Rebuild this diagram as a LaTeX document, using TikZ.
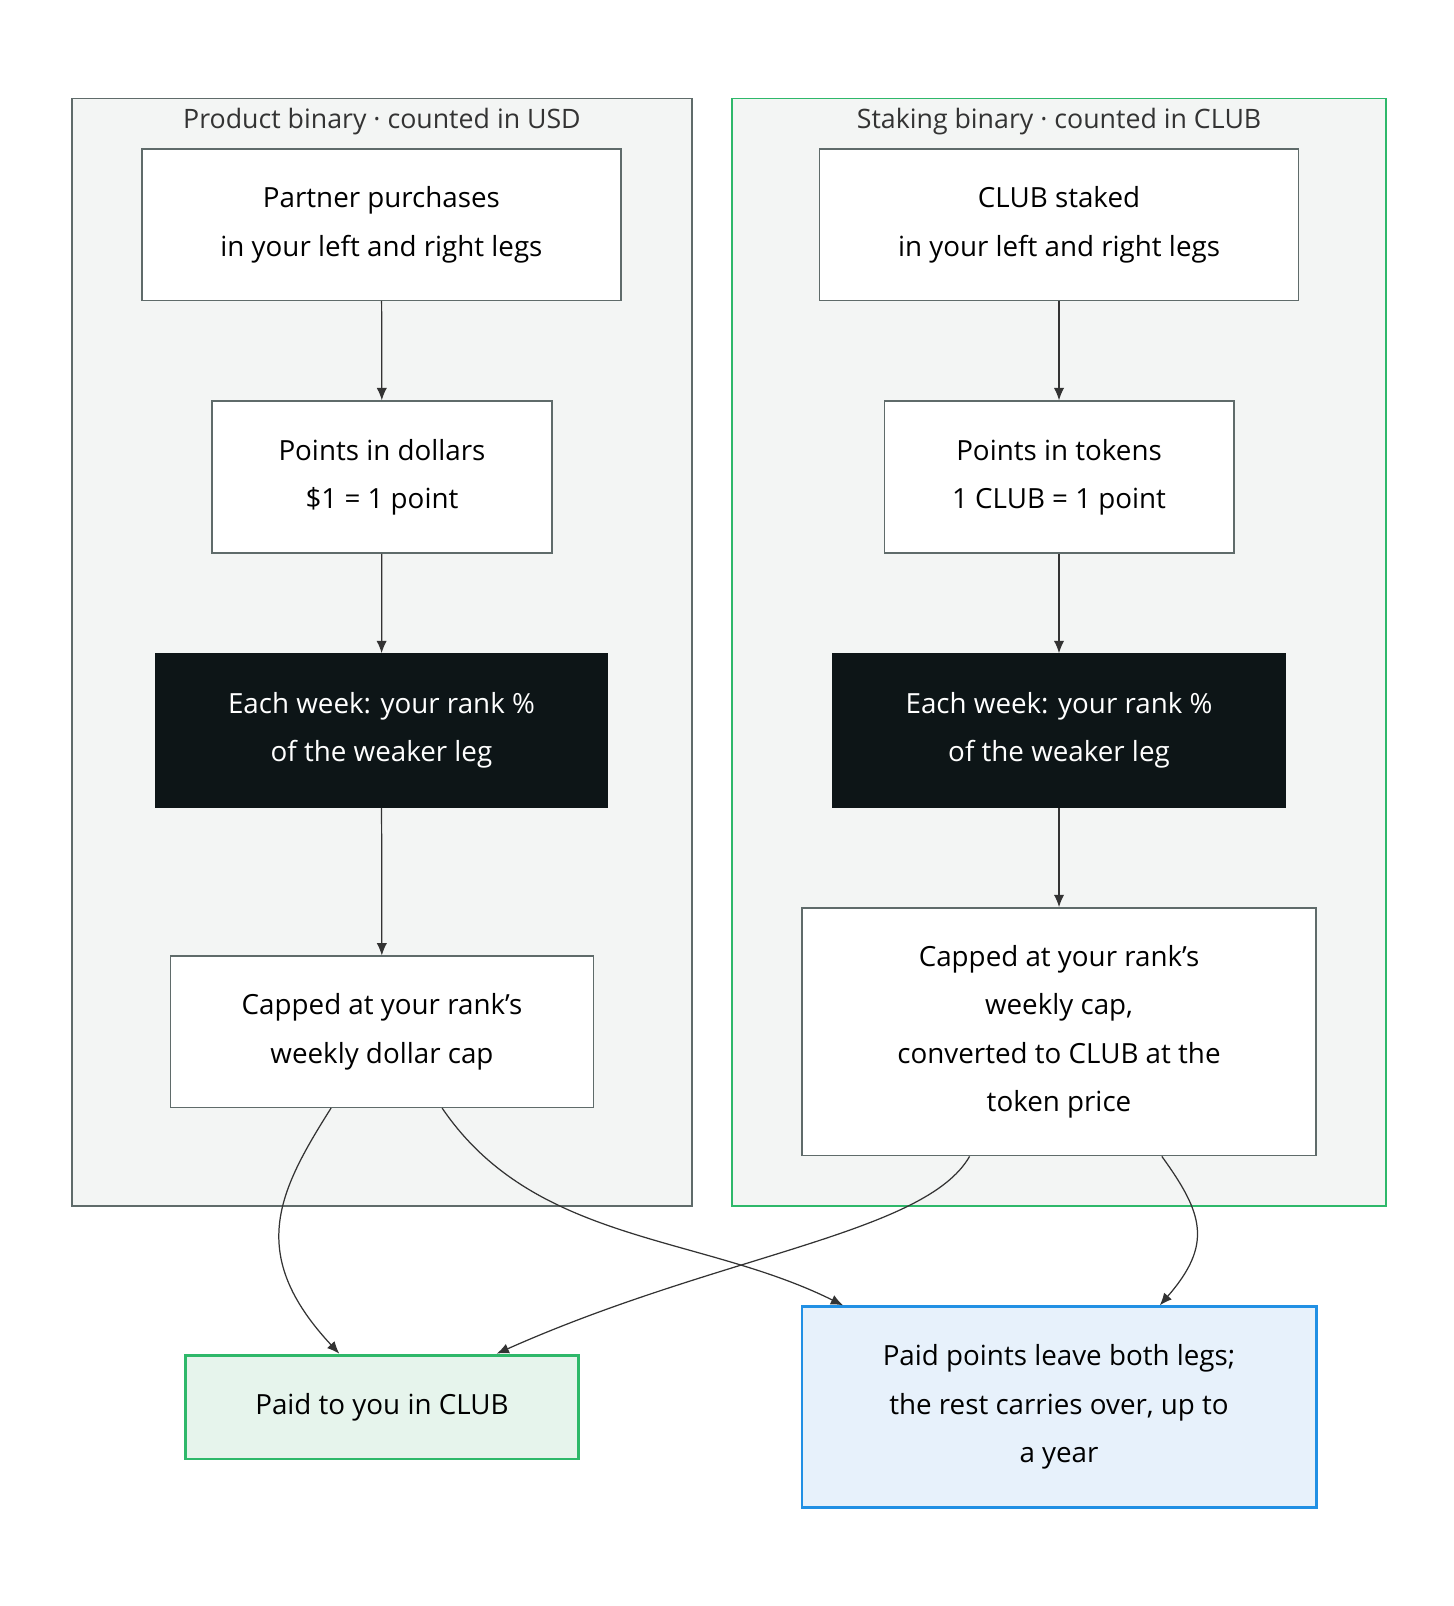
\documentclass[tikz,border=0pt]{standalone}
\usepackage{fontspec}
\setmainfont{Open Sans}
\usepackage{tikz}
\usetikzlibrary{arrows.meta}
\definecolor{boxline}{HTML}{5F6B6A}
\definecolor{framefill}{HTML}{F3F5F4}
\definecolor{clubgreen}{HTML}{2EB86A}
\definecolor{paidfill}{HTML}{E6F4EC}
\definecolor{carryblue}{HTML}{2190E4}
\definecolor{carryfill}{HTML}{E7F1FB}
\definecolor{weekfill}{HTML}{0D1517}
\tikzset{
  stepbox/.style={draw=boxline,line width=0.7pt,fill=white,align=center,inner sep=0pt,font=\fontsize{13.5}{23.5}\selectfont},
  weekbox/.style={stepbox,draw=weekfill,fill=weekfill,text=white},
  flow/.style={-{Latex[length=6pt,width=5pt]},draw=black!80,line width=0.6pt},
  frametitle/.style={font=\fontsize{13}{16}\selectfont,text=black!80}
}
\begin{document}
\begin{tikzpicture}[x=0.5pt,y=-0.5pt]
                  \useasboundingbox (0,0) rectangle (1414,1562);
                  % Frames
                  \draw [boxline,fill=framefill,line width=0.6pt] (70,96) rectangle (673,1173);
                  \draw [clubgreen,fill=framefill,line width=0.6pt] (712,96) rectangle (1348,1173);
                  \node [frametitle] (ltitle) at (371.5,118) {Product binary · counted in USD};
                  \node [frametitle] (rtitle) at (1030,118) {Staking binary · counted in CLUB};
                  % Product binary
                  \node [stepbox,minimum width=233pt,minimum height=73.5pt] (lbuy) at (371,218.5) {Partner purchases\\in your left and right legs};
                  \node [stepbox,minimum width=165.5pt,minimum height=74pt] (lpts) at (371.5,464) {Points in dollars\\\$1 = 1 point};
                  \node [weekbox,minimum width=220pt,minimum height=74.5pt] (lweek) at (371,710.5) {Each week: your rank \%\\of the weaker leg};
                  \node [stepbox,minimum width=205.5pt,minimum height=73.5pt] (lcap) at (371.5,1003.5) {Capped at your rank's\\weekly dollar cap};
                  % Staking binary
                  \node [stepbox,minimum width=233pt,minimum height=73.5pt] (rstake) at (1030,218.5) {CLUB staked\\in your left and right legs};
                  \node [stepbox,minimum width=170pt,minimum height=74pt] (rpts) at (1030,464) {Points in tokens\\1 CLUB = 1 point};
                  \node [weekbox,minimum width=220pt,minimum height=74.5pt] (rweek) at (1030,710.5) {Each week: your rank \%\\of the weaker leg};
                  \node [stepbox,minimum width=250pt,minimum height=120.5pt] (rcap) at (1030,1003.5) {Capped at your rank's\\weekly cap,\\converted to CLUB at the\\token price};
                  % Outcomes
                  \node [stepbox,draw=clubgreen,fill=paidfill,line width=1.4pt,minimum width=191.5pt,minimum height=50.5pt] (paid) at (371.5,1368.5) {Paid to you in CLUB};
                  \node [stepbox,draw=carryblue,fill=carryfill,line width=1.4pt,minimum width=250pt,minimum height=97.5pt] (carry) at (1030,1368.5) {Paid points leave both legs;\\the rest carries over, up to\\a year};
                  % Connections
                  \draw [flow] (lbuy) -- (lpts);
                  \draw [flow] (lpts) -- (lweek);
                  \draw [flow] (lweek) -- (lcap);
                  \draw [flow] (rstake) -- (rpts);
                  \draw [flow] (rpts) -- (rweek);
                  \draw [flow] (rweek) -- (rcap);
                  \draw [flow] (lcap.south -| 322,0) .. controls (270,1160) and (240,1220) .. (paid.north -| 330,0);
                  \draw [flow] (lcap.south -| 430,0) .. controls (520,1210) and (680,1200) .. (carry.north -| 820,0);
                  \draw [flow] (rcap.south -| 943,0) .. controls (900,1200) and (700,1220) .. (paid.north -| 483,0);
                  \draw [flow] (rcap.south -| 1130,0) .. controls (1170,1180) and (1180,1210) .. (carry.north -| 1128,0);
              \end{tikzpicture}
\end{document}
